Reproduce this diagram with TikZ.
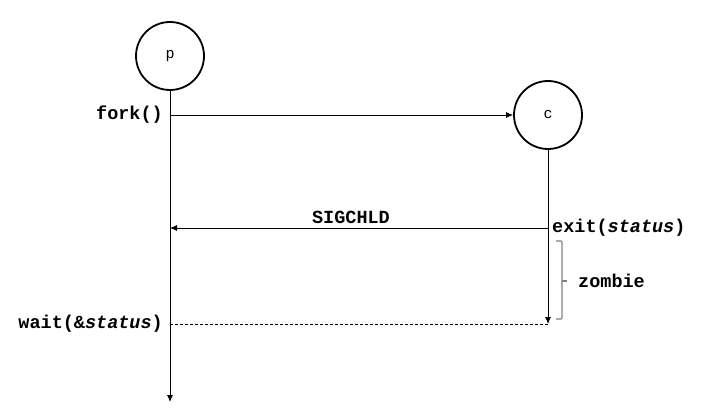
\documentclass[tikz,border=0pt]{standalone}
\usepackage{fontspec}
\setmonofont{Liberation Mono}
\usetikzlibrary{arrows.meta}
\begin{document}
\begin{tikzpicture}[x=1pt,y=-1pt,
  proc/.style={circle,draw,line width=1.8pt,minimum size=68pt,inner sep=0pt,font=\ttfamily\fontsize{15}{15}\selectfont},
  lbl/.style={font=\ttfamily\bfseries\fontsize{18.5}{18.5}\selectfont,inner sep=0pt},
  msg/.style={line width=0.8pt,-{Latex[length=7pt,width=6pt]}},
  bracket/.style={draw=gray,line width=1.3pt,rounded corners=1pt},
  ]
\useasboundingbox (0,0) rectangle (703,419);
\node[proc] (p) at (170,56) {p};
\node[proc] (c) at (548,115) {c};
\coordinate (pf) at (170,115);
\coordinate (ps) at (170,228);
\coordinate (pw) at (170,324);
\coordinate (pend) at (170,402);
\coordinate (ce) at (548,228);
\coordinate (cz) at (548,324);
\draw[msg] (p.south) -- (pend);
\draw[msg] (c.south) -- (cz);
\draw[msg] (pf) -- (c.west);
\draw[msg] (ce) -- (ps);
\draw[line width=0.8pt,dash pattern=on 3pt off 2pt] (cz) -- (pw);
\node[lbl,anchor=east] (fork) at (163,115) {fork()};
\node[lbl,anchor=west] (exit) at (552,228) {exit(\textit{status})};
\node[lbl] (sig) at (351,217) {SIGCHLD};
\node[lbl,anchor=east] (wait) at (163,324) {wait(\&\textit{status})};
\coordinate (bt) at (556,241);
\coordinate (bb) at (556,319);
\coordinate (bm) at (567,281);
\draw[bracket] (bt) -- (562,241) -- (562,319) -- (bb);
\draw[draw=gray,line width=1.3pt] (562,281) -- (bm);
\node[lbl,anchor=west] (zombie) at (578,281) {zombie};
\end{tikzpicture}
\end{document}
